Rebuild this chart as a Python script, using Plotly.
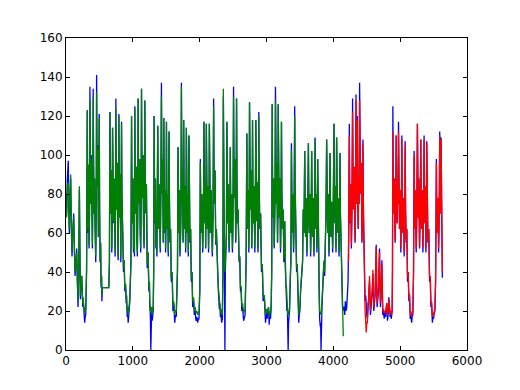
import plotly.graph_objects as go

# ---- data ----
# time index (sample number) and actual values (blue)
time_idx = [
    0, 10, 20, 34, 42, 50, 60, 70, 80, 90, 100, 115, 125, 135, 148, 160, 170, 180, 190, 200, 208, 215, 225, 235, 245, 250, 258, 265, 272, 279, 288, 295,
    308, 318, 324, 330, 337, 345, 352, 358, 364, 370, 378, 386, 395, 401, 407, 413, 420, 428, 436, 445, 452, 458, 464, 470, 477, 485, 491, 497, 503, 510, 518, 525, 532, 537, 545, 640,
    650, 657, 663, 670, 677, 685, 691, 697, 703, 710, 718, 727, 735, 741, 746, 752, 760, 768, 774, 780, 786, 791, 797, 805, 812, 820, 826, 831, 837, 845, 852, 860, 870, 880, 890, 900, 908, 915, 922, 930, 938, 945,
    955, 972, 981, 987, 995, 1003, 1010, 1018, 1024, 1030, 1036, 1045, 1053, 1060, 1068, 1074, 1079, 1085, 1095, 1103, 1110, 1118, 1124, 1130, 1136, 1145, 1153, 1160, 1168, 1174, 1179, 1186, 1195, 1203, 1215, 1228, 1240, 1248, 1254, 1262, 1269, 1276, 1283, 1290, 1298, 1305, 1312,
    1318, 1324, 1330, 1338, 1345, 1352, 1360, 1367, 1373, 1379, 1385, 1393, 1401, 1410, 1418, 1428, 1434, 1440, 1447, 1455, 1463, 1469, 1475, 1482, 1490, 1497, 1503, 1509, 1515, 1522, 1530, 1536, 1542, 1548, 1555, 1565, 1575, 1588, 1600, 1612, 1627, 1638, 1650, 1660,
    1668, 1676, 1682, 1690, 1698, 1705, 1712, 1720, 1727, 1733, 1740, 1746, 1752, 1761, 1767, 1775, 1782, 1790, 1795, 1801, 1807, 1815, 1822, 1830, 1835, 1840, 1846, 1855, 1865, 1875, 1885, 1895, 1908, 1920, 1932, 1945, 1958, 1970, 1980, 1990,
    2002, 2010, 2017, 2025, 2033, 2045, 2052, 2058, 2064, 2070, 2078, 2084, 2090, 2100, 2107, 2115, 2123, 2133, 2139, 2145, 2151, 2160, 2170, 2180, 2190, 2200, 2209, 2215, 2222, 2230, 2240, 2250, 2260, 2270, 2280, 2294, 2302, 2310, 2320, 2328, 2340,
    2348, 2354, 2360, 2366, 2372, 2378, 2384, 2392, 2400, 2407, 2413, 2420, 2428, 2440, 2446, 2452, 2458, 2464, 2470, 2478, 2490, 2497, 2502, 2507, 2513, 2520, 2528, 2540, 2546, 2552, 2558, 2565, 2575, 2590, 2600, 2610, 2620, 2630, 2643, 2657, 2668, 2680,
    2695, 2706, 2712, 2720, 2727, 2735, 2740, 2746, 2752, 2760, 2768, 2780, 2786, 2791, 2797, 2805, 2813, 2825, 2832, 2840, 2846, 2855, 2863, 2873, 2879, 2885, 2891, 2900, 2912, 2925, 2937, 2950, 2967, 2985, 3000, 3010, 3020, 3030, 3040, 3050, 3060, 3070, 3078,
    3085, 3091, 3098, 3106, 3115, 3122, 3128, 3134, 3140, 3148, 3156, 3165, 3170, 3175, 3181, 3190, 3198, 3210, 3217, 3224, 3230, 3240, 3250, 3260, 3267, 3273, 3280, 3290, 3298, 3305, 3312, 3318, 3324, 3330, 3338, 3345,
    3355, 3365, 3373, 3379, 3385, 3393, 3405, 3412, 3422, 3428, 3435, 3442, 3450, 3460, 3470, 3476, 3482, 3490, 3500, 3510, 3520, 3530,
    3540, 3550, 3560, 3566, 3572, 3578, 3585, 3595, 3605, 3615, 3627, 3633, 3640, 3650, 3660, 3668, 3676, 3682, 3690, 3700, 3710, 3718, 3727, 3733, 3740, 3748, 3755, 3766, 3772, 3780, 3788, 3795, 3805, 3810, 3816, 3822, 3830,
    3840, 3850, 3860, 3870, 3880, 3890, 3900, 3906, 3915, 3925, 3935, 3943, 3951, 3957, 3965, 3975, 3990, 3998, 4010, 4016, 4025, 4032, 4040, 4049, 4055, 4065, 4075, 4085, 4092, 4100, 4106, 4115, 4122, 4130, 4139, 4149,
    4160, 4170, 4180, 4190, 4200, 4210, 4220, 4230,
    4239, 4245, 4252, 4260, 4270, 4278, 4288, 4294, 4302, 4312, 4325, 4332, 4339, 4345, 4352, 4358, 4365, 4372, 4380, 4386, 4393, 4400, 4408, 4418, 4428, 4436, 4443, 4450, 4460, 4468, 4475, 4484, 4492, 4500,
    4510, 4518, 4525, 4533, 4542, 4548, 4555, 4565, 4575, 4583, 4592, 4598, 4605, 4615, 4625, 4633, 4642, 4648, 4655, 4665, 4675, 4683, 4691, 4698, 4705, 4715, 4727, 4733, 4740, 4750, 4761, 4770, 4780, 4790, 4800, 4810, 4820, 4830, 4840, 4850, 4858, 4866, 4874, 4880,
    4885, 4891, 4897, 4905, 4913, 4925, 4932, 4940, 4946, 4955, 4962, 4968, 4975, 4981, 4990, 4998, 5010, 5018, 5025, 5031, 5040, 5048, 5060, 5068, 5075, 5081, 5090, 5100, 5110, 5120, 5130, 5140, 5150, 5160, 5172, 5180, 5190,
    5200, 5209, 5215, 5220, 5228, 5240, 5248, 5258, 5264, 5270, 5278, 5290, 5298, 5309, 5315, 5320, 5328, 5340, 5348, 5358, 5364, 5370, 5378, 5385, 5390, 5398, 5404, 5415, 5428, 5440, 5450, 5460, 5470, 5482, 5490, 5500, 5510, 5520, 5530,
    5542, 5548, 5555, 5565, 5575, 5583, 5592, 5598, 5605, 5612, 5620, 5631,
]
actual = [
    80, 70, 88, 97, 72, 60, 78, 88, 62, 48, 60, 70, 52, 38, 45, 52, 35, 22, 40, 82, 50, 26, 33, 38, 28, 22, 26, 18, 20, 14, 17, 18,
    40, 123, 82, 60, 95, 52, 70, 135, 92, 75, 100, 68, 52, 80, 134, 95, 70, 88, 62, 45, 72, 141, 100, 86, 105, 58, 75, 121, 72, 45, 55, 32, 38, 25, 32, 32,
    45, 122, 84, 70, 92, 50, 68, 114, 80, 65, 88, 60, 48, 75, 129, 90, 72, 96, 60, 46, 70, 121, 84, 68, 90, 45, 66, 117, 80, 60, 70, 40, 46, 30, 34, 24, 28, 17, 20, 14, 18, 20,
    25, 45, 120, 82, 65, 88, 50, 58, 48, 125, 86, 70, 94, 56, 48, 72, 129, 90, 75, 98, 62, 50, 76, 134, 94, 78, 100, 64, 52, 80, 128, 88, 70, 85, 42, 50, 30, 35, 22, 18, 0, 16, 22, 15, 18, 20, 40,
    120, 82, 65, 88, 52, 60, 48, 70, 115, 80, 62, 85, 50, 50, 75, 137, 95, 80, 98, 55, 119, 80, 60, 82, 50, 68, 117, 82, 62, 80, 48, 66, 112, 76, 55, 62, 35, 40, 20, 24, 14, 18, 17, 30,
    40, 104, 75, 60, 82, 48, 55, 70, 137, 95, 75, 88, 55, 118, 80, 62, 84, 50, 66, 114, 78, 60, 80, 48, 64, 110, 75, 55, 62, 35, 40, 22, 26, 18, 20, 15, 17, 14, 16, 16,
    30, 98, 70, 60, 80, 50, 58, 75, 117, 82, 65, 85, 52, 116, 80, 62, 84, 50, 66, 116, 80, 60, 82, 52, 48, 70, 129, 90, 75, 92, 54, 62, 45, 40, 30, 21, 24, 17, 19, 14, 16,
    40, 130, 85, 70, 30, 0, 40, 55, 60, 117, 82, 65, 85, 50, 58, 72, 104, 75, 60, 80, 50, 62, 80, 135, 95, 78, 98, 55, 78, 129, 85, 65, 72, 45, 48, 30, 32, 20, 22, 15, 17, 18,
    45, 111, 76, 62, 82, 50, 66, 127, 88, 72, 92, 52, 70, 118, 80, 65, 84, 50, 68, 118, 82, 66, 86, 50, 70, 122, 84, 62, 70, 40, 44, 25, 28, 14, 20, 16, 18, 22, 13, 19, 16, 22, 40,
    126, 86, 68, 88, 52, 62, 78, 135, 94, 75, 96, 55, 70, 126, 85, 68, 88, 50, 66, 117, 80, 62, 72, 45, 52, 66, 44, 30, 32, 20, 22, 12, 0, 14, 17, 20,
    35, 45, 106, 75, 60, 80, 50, 65, 125, 85, 65, 72, 40, 44, 25, 28, 14, 18, 20, 30, 35, 40,
    45, 72, 60, 80, 102, 75, 58, 78, 48, 66, 106, 76, 60, 80, 48, 64, 102, 74, 58, 78, 48, 66, 109, 78, 62, 80, 50, 98, 62, 40, 30, 16, 12, 14, 0, 18, 22,
    30, 40, 45, 38, 50, 70, 108, 76, 60, 80, 48, 66, 101, 72, 58, 76, 50, 70, 116, 82, 65, 84, 50, 109, 76, 60, 78, 48, 64, 101, 70, 55, 48, 35, 20, 22,
    22, 18, 25, 20, 22, 28, 35, 60,
    116, 80, 65, 85, 52, 70, 129, 90, 72, 94, 55, 75, 131, 92, 75, 120, 82, 62, 88, 75, 137, 95, 80, 96, 55, 70, 108, 72, 45, 50, 25, 28, 20, 18,
    16, 24, 22, 30, 35, 24, 18, 22, 25, 30, 39, 28, 20, 24, 28, 40, 54, 35, 22, 26, 30, 42, 52, 32, 22, 30, 46, 30, 18, 20, 16, 19, 17, 20, 24, 15, 18, 27, 20, 17, 19, 16, 18, 20,
    40, 125, 84, 70, 88, 55, 68, 110, 78, 65, 85, 75, 117, 80, 62, 82, 50, 68, 110, 76, 60, 78, 48, 66, 107, 72, 55, 62, 35, 40, 25, 28, 16, 18, 14, 17, 18,
    40, 102, 76, 62, 82, 50, 66, 116, 82, 68, 88, 52, 68, 108, 76, 62, 82, 50, 66, 110, 78, 65, 84, 50, 62, 107, 72, 55, 62, 35, 38, 22, 24, 14, 17, 16, 19, 20, 35,
    98, 70, 60, 78, 50, 66, 112, 80, 70, 109, 72, 37,
]

# prediction on the training part (green) – same time stamps as the start of time_idx
train_pred = [
    72, 68, 84, 86, 72, 62, 80, 90, 64, 50, 60, 68, 54, 40, 45, 50, 36, 25, 42, 84, 52, 28, 34, 38, 30, 24, 27, 21, 22, 19, 20, 21,
    42, 123, 82, 62, 95, 54, 70, 128, 92, 75, 98, 68, 54, 80, 130, 95, 70, 88, 62, 48, 72, 132, 100, 84, 103, 58, 75, 119, 72, 46, 55, 34, 38, 28, 32, 32,
    46, 122, 84, 70, 92, 52, 68, 114, 80, 66, 88, 60, 50, 75, 124, 90, 72, 96, 60, 48, 70, 120, 84, 68, 90, 47, 66, 116, 80, 60, 70, 42, 46, 32, 34, 26, 28, 20, 22, 18, 20, 22,
    27, 46, 120, 82, 65, 88, 52, 58, 50, 124, 86, 70, 94, 56, 50, 72, 129, 90, 75, 98, 62, 52, 76, 134, 94, 78, 100, 64, 54, 80, 128, 88, 70, 85, 44, 50, 32, 35, 24, 20, 20, 19, 22, 18, 20, 22, 40,
    120, 82, 66, 88, 53, 60, 50, 70, 115, 80, 62, 85, 52, 52, 75, 130, 95, 80, 98, 56, 119, 80, 61, 82, 52, 68, 117, 82, 62, 80, 50, 66, 112, 76, 56, 62, 37, 40, 23, 25, 18, 20, 20, 32,
    42, 104, 75, 60, 82, 50, 56, 70, 135, 95, 75, 88, 56, 118, 80, 62, 84, 52, 66, 114, 78, 60, 80, 50, 64, 110, 75, 56, 62, 37, 40, 25, 27, 21, 22, 19, 20, 18, 19, 19,
    32, 96, 70, 60, 80, 52, 58, 75, 117, 82, 65, 85, 53, 116, 80, 62, 84, 52, 66, 116, 80, 60, 82, 52, 50, 70, 125, 90, 75, 92, 55, 62, 46, 40, 32, 24, 25, 20, 21, 18, 19,
    42, 134, 85, 70, 45, 40, 44, 55, 60, 117, 82, 65, 85, 52, 58, 72, 104, 75, 60, 80, 52, 62, 80, 130, 95, 78, 98, 56, 78, 129, 85, 65, 72, 46, 48, 32, 33, 23, 24, 19, 20, 21,
    46, 111, 76, 62, 82, 52, 66, 127, 88, 72, 92, 53, 70, 118, 80, 65, 84, 52, 68, 118, 82, 66, 86, 52, 70, 120, 84, 62, 70, 42, 44, 27, 28, 18, 21, 19, 20, 22, 17, 20, 19, 23, 40,
    126, 86, 68, 88, 53, 62, 78, 128, 94, 75, 96, 56, 70, 126, 85, 68, 88, 52, 66, 117, 80, 62, 72, 47, 52, 66, 45, 32, 33, 22, 23, 18, 20, 18, 20, 22,
    36, 46, 103, 75, 60, 80, 52, 65, 120, 85, 65, 72, 42, 44, 27, 28, 18, 20, 22, 31, 36, 42,
    46, 72, 60, 80, 102, 75, 58, 78, 50, 66, 106, 76, 60, 80, 50, 64, 102, 74, 58, 78, 50, 66, 108, 78, 62, 80, 52, 98, 62, 42, 31, 20, 18, 18, 18, 20, 24,
    32, 40, 46, 40, 52, 70, 108, 76, 60, 80, 50, 66, 101, 72, 58, 76, 52, 70, 116, 82, 65, 84, 52, 109, 76, 60, 78, 50, 64, 101, 70, 55, 45, 30, 15, 7,
]

# prediction on the test part (red)
test_start_idx = 4228
test_start_val = 45
test_pred = [
    110, 80, 66, 85, 54, 70, 122, 90, 72, 94, 56, 75, 128, 92, 75, 118, 82, 63, 88, 75, 128, 95, 80, 96, 56, 70, 106, 72, 46, 48, 20, 15, 9, 14,
    14, 24, 24, 32, 38, 26, 20, 24, 27, 32, 41, 30, 22, 26, 30, 42, 53, 36, 24, 28, 31, 42, 50, 34, 24, 30, 44, 31, 20, 21, 19, 20, 19, 22, 24, 18, 19, 26, 21, 19, 20, 18, 19, 22,
    40, 112, 84, 70, 88, 56, 68, 110, 78, 65, 85, 75, 112, 80, 62, 82, 52, 68, 108, 76, 60, 78, 50, 66, 105, 72, 56, 62, 37, 40, 27, 29, 19, 20, 17, 19, 20,
    40, 100, 76, 62, 82, 52, 66, 116, 82, 68, 88, 53, 68, 108, 76, 62, 82, 52, 66, 108, 78, 65, 84, 52, 62, 106, 72, 56, 62, 37, 38, 24, 25, 17, 19, 18, 20, 22, 36,
    96, 70, 60, 78, 52, 66, 110, 80, 70, 108, 72, 40,
]

x_ticks = [0, 1000, 2000, 3000, 4000, 5000, 6000]
y_ticks = [0, 20, 40, 60, 80, 100, 120, 140, 160]

# ---- build series ----
n = min(len(time_idx), len(actual))
blue_x, blue_y = time_idx[:n], actual[:n]
green_x = time_idx[:len(train_pred)]
i0 = time_idx.index(4239)
red_x = [test_start_idx] + time_idx[i0:i0 + len(test_pred)]
red_y = [test_start_val] + test_pred[:len(red_x) - 1]

fig = go.Figure()
fig.add_trace(go.Scatter(x=blue_x, y=blue_y, mode="lines",
                         line=dict(color="#0000ff", width=1.3), showlegend=False))
fig.add_trace(go.Scatter(x=green_x, y=train_pred[:len(green_x)], mode="lines",
                         line=dict(color="#008000", width=1.3), showlegend=False))
fig.add_trace(go.Scatter(x=red_x, y=red_y, mode="lines",
                         line=dict(color="#ff0000", width=1.3), showlegend=False))

axis_common = dict(
    showgrid=False, zeroline=False, showline=True, linecolor="black", linewidth=1,
    mirror="ticks", ticks="inside", ticklen=4, tickcolor="black", tickwidth=1,
    tickfont=dict(family="DejaVu Sans", size=12, color="black"),
)
# page body has an 8px default margin, so the margins are shifted to compensate
fig.update_layout(
    width=520, height=390,
    margin=dict(l=58, r=61, t=30, b=48),
    paper_bgcolor="white", plot_bgcolor="white",
    xaxis=dict(range=[0, 6000], tickvals=x_ticks, ticktext=[str(v) for v in x_ticks], **axis_common),
    yaxis=dict(range=[0, 160], tickvals=y_ticks, ticktext=[str(v) for v in y_ticks], **axis_common),
)
fig.write_html("out.html")
